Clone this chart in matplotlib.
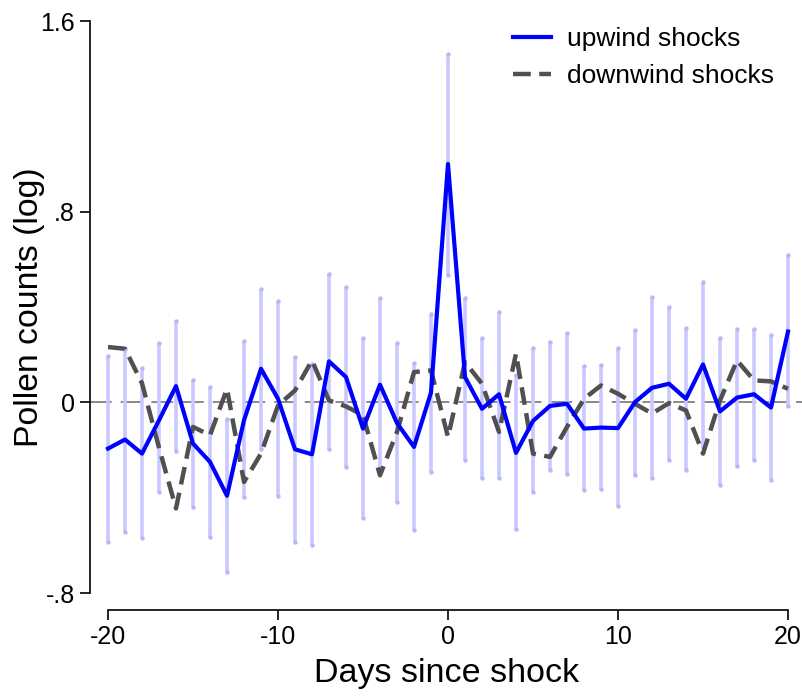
import numpy as np
import matplotlib.pyplot as plt

# dager rundt sjokket
days = list(range(-20, 21))

# oppvind (blå linje)
upwind = [-0.194, -0.156, -0.215, -0.075, 0.068, -0.173, -0.250, -0.392, -0.075, 0.141,
          0.015, -0.197, -0.218, 0.172, 0.106, -0.110, 0.074, -0.087, -0.187, 0.041,
          1.000, 0.106, -0.027, 0.034, -0.212, -0.078, -0.015, -0.006, -0.110, -0.106,
          -0.108, 0.001, 0.061, 0.078, 0.015, 0.159, -0.038, 0.020, 0.034, -0.022,
          0.297]

# konfidensintervall for oppvind
upwind_hi = [0.193, 0.225, 0.145, 0.250, 0.341, 0.095, 0.064, -0.068, 0.257, 0.476,
             0.427, 0.190, 0.163, 0.537, 0.482, 0.269, 0.437, 0.250, 0.166, 0.371,
             1.463, 0.437, 0.269, 0.381, 0.113, 0.229, 0.255, 0.290, 0.151, 0.155,
             0.228, 0.302, 0.441, 0.399, 0.313, 0.504, 0.271, 0.306, 0.309, 0.284,
             0.619]
upwind_lo = [-0.585, -0.543, -0.571, -0.376, -0.205, -0.441, -0.564, -0.711, -0.397, -0.194,
             -0.391, -0.585, -0.599, -0.195, -0.271, -0.487, -0.289, -0.417, -0.536, -0.292,
             0.535, -0.243, -0.316, -0.316, -0.532, -0.376, -0.285, -0.299, -0.366, -0.362,
             -0.436, -0.303, -0.317, -0.240, -0.285, -0.186, -0.348, -0.268, -0.243, -0.327,
             -0.014]

# nedvind (stiplet grå linje)
downwind = [0.232, 0.225, 0.080, -0.190, -0.445, -0.103, -0.138, 0.057, -0.334, -0.215,
            -0.013, 0.050, 0.176, 0.008, -0.017, -0.054, -0.306, -0.124, 0.127, 0.134,
            -0.145, 0.169, 0.078, -0.124, 0.204, -0.215, -0.229, -0.103, 0.015, 0.071,
            0.036, -0.006, -0.047, -0.003, -0.034, -0.215, 0.008, 0.176, 0.092, 0.088,
            0.057]

yticks = [-0.8, 0, 0.8, 1.6]
ytick_labels = ['-.8', '0', '.8', '1.6']
xticks = [-20, -10, 0, 10, 20]

plt.rcParams['font.family'] = ['Liberation Sans', 'DejaVu Sans']

W, H = 803, 696
fig = plt.figure(figsize=(W / 100, H / 100), dpi=100)
ax = fig.add_axes([90 / W, (H - 610) / H, (803 - 90) / W, (610 - 21) / H])

# nullinje
ax.axhline(0, color='#808080', lw=1.3, dashes=(12, 5), zorder=1)

# feilstolper
ci_col = '#c9c9ff'
ax.vlines(days, upwind_lo, upwind_hi, color=ci_col, lw=2.6, zorder=2)
ax.plot(days, upwind_lo, 'o', ms=3.2, color='#b8b8f4', mec='none', zorder=2)
ax.plot(days, upwind_hi, 'o', ms=3.2, color='#b8b8f4', mec='none', zorder=2)

ax.plot(days, downwind, color='#505050', lw=3.2, dashes=(4, 1.9),
        label='downwind shocks', zorder=3)
ax.plot(days, upwind, color='#0000ff', lw=3.0, label='upwind shocks', zorder=4)

ax.set_xlim(-20 - 18 / 17, 20 + 15 / 17)
ax.set_ylim(-0.8 - 17 / 238.75, 1.6)

for s in ['top', 'right']:
    ax.spines[s].set_visible(False)
ax.spines['left'].set_bounds(-0.8, 1.6)
ax.spines['bottom'].set_bounds(-20, 20)
for s in ['left', 'bottom']:
    ax.spines[s].set_linewidth(1.2)

ax.set_xticks(xticks)
ax.set_xticklabels([str(t) for t in xticks])
ax.set_yticks(yticks)
ax.set_yticklabels(ytick_labels)
ax.tick_params(axis='both', labelsize=18, length=7, width=1.2, pad=4)

ax.set_xlabel('Days since shock', fontsize=24.5, labelpad=6)
ax.set_ylabel('Pollen counts (log)', fontsize=24.3)
ax.yaxis.set_label_coords((45 - 90) / 713, (610 - 307) / 589)

handles, labels = ax.get_legend_handles_labels()
ax.legend(handles[::-1], labels[::-1], loc='upper left',
          bbox_to_anchor=(513 / W, 1 - 27 / H), bbox_transform=fig.transFigure,
          frameon=False, fontsize=19, handlelength=1.45, handletextpad=0.6,
          labelspacing=0.5, borderaxespad=0, borderpad=0)

fig.savefig('out.png', dpi=100)
